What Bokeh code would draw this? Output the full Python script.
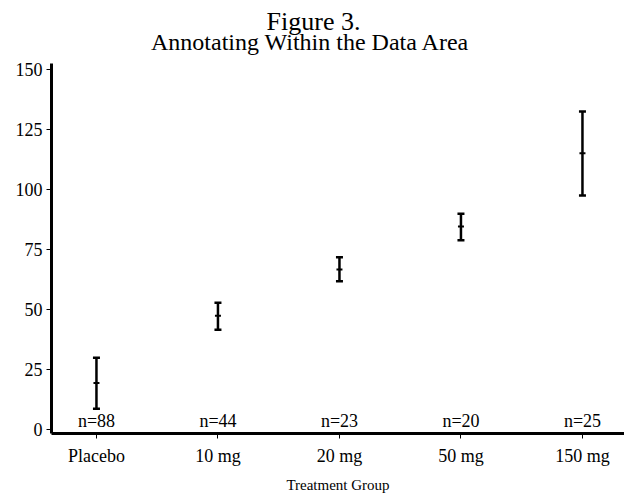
from bokeh.plotting import figure
from bokeh.layouts import column
from bokeh.models import Range1d, FixedTicker, ColumnDataSource
from bokeh.embed import file_html
from bokeh.resources import INLINE
from bokeh.core.properties import value

# ---- data ----
groups = ["Placebo", "10 mg", "20 mg", "50 mg", "150 mg"]
means = [19.3, 47.4, 66.7, 84.6, 115.1]
lower = [8.6, 41.5, 61.7, 78.8, 97.5]
upper = [29.9, 52.8, 71.8, 89.9, 132.5]
counts = [88, 44, 23, 20, 25]
y_ticks = [0, 25, 50, 75, 100, 125, 150]
title_lines = ["Figure 3.", "Annotating Within the Data Area"]

FONT = "Liberation Serif"
W = 624
HEAD_H = 57
LEFT = 51

# ---- title strip (pixel coordinates, y downward) ----
head = figure(width=W, height=HEAD_H, output_backend="svg", toolbar_location=None,
              x_range=Range1d(LEFT, W), y_range=Range1d(HEAD_H, 0),
              x_axis_type=None, y_axis_type=None, min_border=0,
              min_border_left=LEFT)
head.title.visible = False
head.outline_line_color = None
head.grid.visible = False
head.text(x=[313, 310], y=[21, 41], text=title_lines, text_align="center",
          text_baseline="alphabetic", text_font=value(FONT),
          text_font_size=["26px", "24px"], text_color="black")

# ---- main chart ----
xs = list(range(len(groups)))
src = ColumnDataSource(dict(x=xs, mean=means, lo=lower, hi=upper,
                            lab=["n=%d" % c for c in counts]))

p = figure(width=W, height=495 - HEAD_H, output_backend="svg", toolbar_location=None,
           x_range=Range1d(-0.37, 4.346), y_range=Range1d(-1.7, 152.5),
           min_border_left=LEFT, min_border_right=0, min_border_top=6,
           min_border_bottom=0)
p.title.visible = False
p.outline_line_color = None
p.grid.visible = False
p.background_fill_color = "white"
p.border_fill_color = "white"

for ax in (p.xaxis[0], p.yaxis[0]):
    ax.axis_line_width = 3
    ax.axis_line_color = "black"
    ax.major_tick_line_color = "black"
    ax.major_tick_line_width = 1
    ax.major_tick_in = 0
    ax.minor_tick_line_color = None
    ax.major_label_text_font = FONT
    ax.major_label_text_font_size = "18px"
    ax.major_label_text_color = "black"

p.xaxis.ticker = FixedTicker(ticks=xs)
p.xaxis.major_label_overrides = {i: g for i, g in enumerate(groups)}
p.xaxis.major_tick_out = 5
p.xaxis.major_label_standoff = 7
p.xaxis.axis_label = "Treatment Group"
p.xaxis.axis_label_text_font = FONT
p.xaxis.axis_label_text_font_size = "15px"
p.xaxis.axis_label_text_font_style = "normal"
p.xaxis.axis_label_text_color = "black"
p.xaxis.axis_label_standoff = 8

p.yaxis.ticker = FixedTicker(ticks=y_ticks)
p.yaxis.major_tick_out = 5
p.yaxis.major_label_standoff = 4

# error bars
p.segment(x0="x", y0="lo", x1="x", y1="hi", source=src, line_color="black", line_width=2.5)
p.scatter(x="x", y="lo", source=src, marker="dash", size=7, line_color="black", line_width=2.5)
p.scatter(x="x", y="hi", source=src, marker="dash", size=7, line_color="black", line_width=2.5)
p.scatter(x="x", y="mean", source=src, marker="dash", size=6, line_color="black", line_width=2)

# n= annotations
LABEL_Y = 3.5
p.text(x="x", y=LABEL_Y, text="lab", source=src, text_align="center",
       text_baseline="alphabetic", text_font=value(FONT),
       text_font_size="18px", text_color="black")

layout = column(head, p, spacing=0)
open("out.html", "w").write(file_html(layout, INLINE))
